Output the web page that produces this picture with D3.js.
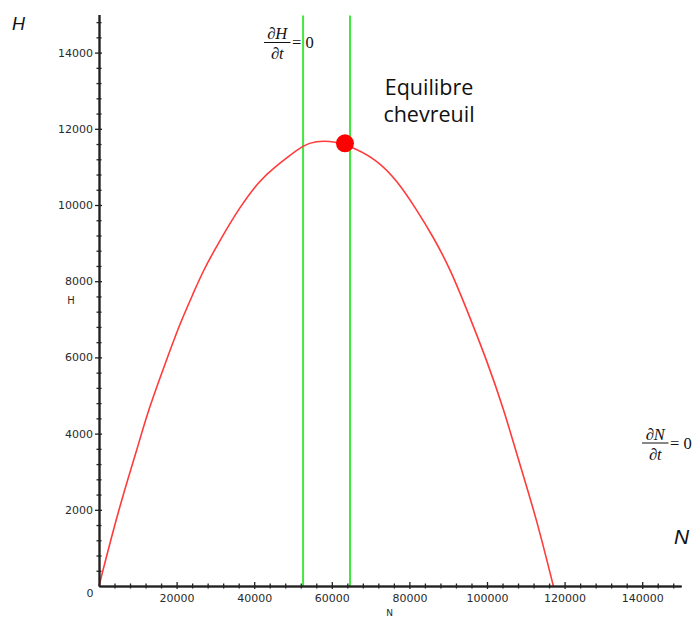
<!DOCTYPE html>
<html>
<head>
<meta charset="utf-8">
<script src="https://cdn.jsdelivr.net/npm/d3@7"></script>
<style>
  html, body { margin: 0; padding: 0; background: #fff; }
  svg { display: block; }
  .tick text { font-family: "DejaVu Sans", sans-serif; font-size: 11px; fill: #2a2a2a; }
</style>
</head>
<body>
<svg id="chart" width="696" height="617"></svg>
<script>
// ---- Data ----
const curveN = [0, 5000, 10000, 12700, 17400, 20900, 24300, 26900, 31200, 36300, 41500, 45400, 48800, 52700, 55700, 60800, 66000, 71600, 76700, 81900, 86100, 90500, 95600, 99900, 104200, 108500, 112800, 117100];
const curveH = [0, 2000, 3650, 4620, 5930, 6900, 7680, 8290, 9080, 9950, 10660, 11000, 11270, 11570, 11680, 11680, 11490, 11180, 10660, 9870, 9170, 8330, 7050, 5930, 4680, 3180, 1750, 0];
const nullclineH = [52600, 64700];       // dH/dt = 0 vertical lines (N values)
const equilibrium = [63400, 11620];      // N, H
const xMajorTicks = [20000, 40000, 60000, 80000, 100000, 120000, 140000];
const yMajorTicks = [2000, 4000, 6000, 8000, 10000, 12000, 14000];
const xDomain = [0, 150000];
const yDomain = [0, 15000];

const svg = d3.select("#chart");
const x = d3.scaleLinear().domain(xDomain).range([99, 681]);
const y = d3.scaleLinear().domain(yDomain).range([586, 14.5]);

const xMinor = d3.range(4000, 150000, 4000).filter(v => v % 20000 !== 0);
const yMinor = d3.range(400, 15000, 400).filter(v => v % 2000 !== 0);

// green nullclines
svg.selectAll("line.null").data(nullclineH).join("line")
  .attr("class", "null")
  .attr("x1", d => x(d)).attr("x2", d => x(d))
  .attr("y1", y(yDomain[1]) + 1).attr("y2", y(0))
  .attr("stroke", "#3ee83e").attr("stroke-width", 2);

// red curve
const pts = curveN.map((n, i) => [n, curveH[i]]);
svg.append("path").datum(pts)
  .attr("fill", "none").attr("stroke", "#ff3b3b").attr("stroke-width", 1.6)
  .attr("d", d3.line().curve(d3.curveBasis).x(d => x(d[0])).y(d => y(d[1])));

// axes
function styleAxis(g) {
  g.select(".domain").attr("stroke", "#222").attr("stroke-width", 1.5);
  g.selectAll(".tick line").attr("stroke", "#222").attr("stroke-width", 1.3);
}
// y axis
svg.append("g").attr("transform", `translate(${x(0)},0)`)
  .call(d3.axisLeft(y).tickValues(yMajorTicks).tickSize(4).tickSizeOuter(0).tickPadding(2).tickFormat(d3.format("d")))
  .call(styleAxis).call(g => g.selectAll(".tick text").attr("font-family", null).attr("font-size", null));
svg.append("g").attr("transform", `translate(${x(0)},0)`)
  .call(d3.axisRight(y).tickValues(yMajorTicks).tickSize(3).tickSizeOuter(0).tickFormat(""))
  .call(styleAxis);
svg.append("g").attr("transform", `translate(${x(0)},0)`)
  .call(d3.axisLeft(y).tickValues(yMinor).tickSize(2.5).tickSizeOuter(0).tickFormat(""))
  .call(styleAxis);
svg.append("g").attr("transform", `translate(${x(0)},0)`)
  .call(d3.axisRight(y).tickValues(yMinor).tickSize(2.5).tickSizeOuter(0).tickFormat(""))
  .call(styleAxis);
// x axis
svg.append("g").attr("transform", `translate(0,${y(0)})`)
  .call(d3.axisBottom(x).tickValues(xMajorTicks).tickSize(3).tickSizeOuter(0).tickPadding(5).tickFormat(d3.format("d")))
  .call(styleAxis).call(g => g.selectAll(".tick text").attr("font-family", null).attr("font-size", null));
svg.append("g").attr("transform", `translate(0,${y(0)})`)
  .call(d3.axisTop(x).tickValues(xMajorTicks).tickSize(4).tickSizeOuter(0).tickFormat(""))
  .call(styleAxis);
svg.append("g").attr("transform", `translate(0,${y(0)})`)
  .call(d3.axisBottom(x).tickValues(xMinor).tickSize(2.5).tickSizeOuter(0).tickFormat(""))
  .call(styleAxis);
svg.append("g").attr("transform", `translate(0,${y(0)})`)
  .call(d3.axisTop(x).tickValues(xMinor).tickSize(2.5).tickSizeOuter(0).tickFormat(""))
  .call(styleAxis);

// origin label
svg.append("text").attr("x", 93.5).attr("y", 597).attr("text-anchor", "end")
  .attr("font-family", "DejaVu Sans, sans-serif").attr("font-size", 11).attr("fill", "#2a2a2a").text("0");
// small axis titles
svg.append("text").attr("x", 71).attr("y", 304).attr("text-anchor", "middle")
  .attr("font-family", "DejaVu Sans, sans-serif").attr("font-size", 10).attr("fill", "#2a2a2a").text("H");
svg.append("text").attr("x", 389.5).attr("y", 616).attr("text-anchor", "middle")
  .attr("font-family", "DejaVu Sans, sans-serif").attr("font-size", 9).attr("fill", "#2a2a2a").text("N");

// equilibrium point
svg.append("circle").attr("cx", x(equilibrium[0])).attr("cy", y(equilibrium[1])).attr("r", 9)
  .attr("fill", "#ff0000");

// large axis letters
svg.append("text").attr("x", 12).attr("y", 29.5)
  .attr("font-family", "Liberation Sans, Arial, sans-serif").attr("font-style", "italic")
  .attr("font-size", 18).attr("fill", "#111").text("H");
svg.append("text").attr("x", 674).attr("y", 544)
  .attr("font-family", "Liberation Sans, Arial, sans-serif").attr("font-style", "italic")
  .attr("font-size", 21).attr("fill", "#111").text("N");

// annotation
const eq = svg.append("text").attr("font-family", "Open Sans, sans-serif").attr("font-size", 21.5)
  .attr("fill", "#111").attr("text-anchor", "middle");
eq.append("tspan").attr("x", 429).attr("y", 94.5).text("Equilibre");
eq.append("tspan").attr("x", 429).attr("y", 121.5).text("chevreuil");

// fractions
function fraction(x0, yBar, num, width) {
  const g = svg.append("g").attr("font-family", "Liberation Serif, Times New Roman, serif").attr("fill", "#111");
  const t1 = g.append("text").attr("x", x0 + width / 2).attr("y", yBar - 3.5).attr("text-anchor", "middle").attr("font-size", 16.5);
  t1.append("tspan").text("∂");
  t1.append("tspan").attr("font-style", "italic").text(num);
  g.append("line").attr("x1", x0).attr("x2", x0 + width).attr("y1", yBar).attr("y2", yBar)
    .attr("stroke", "#111").attr("stroke-width", 1);
  const t2 = g.append("text").attr("x", x0 + width / 2).attr("y", yBar + 16.5).attr("text-anchor", "middle").attr("font-size", 16.5);
  t2.append("tspan").text("∂");
  t2.append("tspan").attr("font-style", "italic").text("t");
  g.append("text").attr("x", x0 + width + 1.5).attr("y", yBar + 5.5).attr("font-size", 16.5).text("= 0");
}
fraction(264, 42.5, "H", 26.5);
fraction(642, 443, "N", 26.5);
</script>
</body>
</html>
